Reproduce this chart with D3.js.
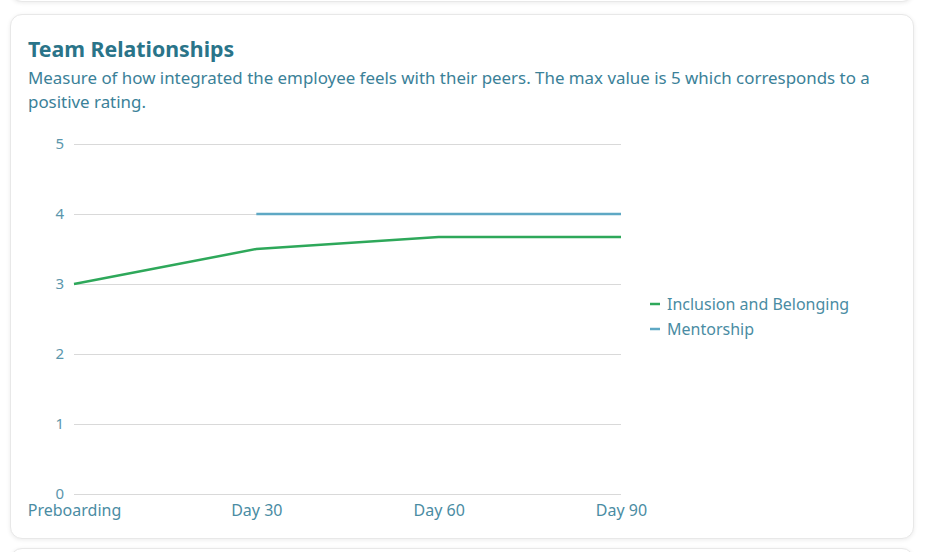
<!DOCTYPE html>
<html>
<head>
<meta charset="utf-8">
<script src="https://cdn.jsdelivr.net/npm/d3@7"></script>
<style>
  body { margin: 0; background: #fff; font-family: "Noto Sans", "Open Sans", sans-serif; }
  .card { position: absolute; background: #fff; border: 1px solid #e8e8e8; border-radius: 12px;
          box-shadow: 0 1px 4px rgba(0,0,0,0.08); }
  svg { position: absolute; left: 0; top: 0; }
</style>
</head>
<body>
<div class="card" style="left:10px; top:-40px; width:902px; height:40px;"></div>
<div class="card" style="left:10px; top:14px; width:902px; height:523px;"></div>
<div class="card" style="left:10px; top:548px; width:902px; height:40px;"></div>
<div id="viz"></div>
<script>
// chart data
const stages = ["Preboarding", "Day 30", "Day 60", "Day 90"];
const inclusion = [3, 3.5, 3.67, 3.67];
const mentorship = [null, 4, 4, 4];
const yTicks = [0, 1, 2, 3, 4, 5];
const seriesNames = ["Inclusion and Belonging", "Mentorship"];
const seriesColors = ["#2ea85a", "#5ea8c4"];

const width = 936, height = 552;
const margin = {top: 144, left: 74, right: 315, bottom: 58};

const svg = d3.select('#viz')
    .append('svg')
    .attr('width', width)
    .attr('height', height);

// heading text
svg.append("text")
    .attr("x", 28).attr("y", 57)
    .attr("fill", "#2a7489")
    .attr("font-size", 21.3)
    .attr("font-weight", "bold")
    .text("Team Relationships");

const sub = ["Measure of how integrated the employee feels with their peers. The max value is 5 which corresponds to a",
             "positive rating."];
sub.forEach((s, i) => {
    svg.append("text")
        .attr("x", 28).attr("y", 84 + i * 24)
        .attr("fill", "#3b8198")
        .attr("font-size", 16.9)
        .text(s);
});

var x = d3.scalePoint()
    .domain(stages)
    .range([margin.left, width - margin.right]);
var y = d3.scaleLinear()
    .domain([0, 5])
    .range([height - margin.bottom, margin.top]);

// grid lines + y labels
svg.append("g")
    .attr("transform", "translate(" + margin.left + ",0)")
    .call(d3.axisLeft(y).tickValues(yTicks).tickFormat(d3.format("d"))
        .tickSize(-(x.range()[1] - x.range()[0])).tickPadding(10))
    .call(g => g.select(".domain").remove())
    .call(g => g.selectAll(".tick line").attr("stroke", "#d9d9d9").attr("stroke-width", 1))
    .call(g => g.selectAll(".tick text").attr("fill", "#5b96ac").attr("font-size", 15)
        .attr("font-family", '"Noto Sans", sans-serif'));

// x labels
svg.append("g")
    .attr("transform", "translate(0," + (height - margin.bottom) + ")")
    .call(d3.axisBottom(x).tickSize(0).tickPadding(11))
    .call(g => g.select(".domain").remove())
    .call(g => g.selectAll(".tick text").attr("fill", "#4a8ca3").attr("font-size", 16)
        .attr("font-family", '"Noto Sans", sans-serif'));

const line = d3.line()
    .defined(d => d.v != null)
    .x(d => x(d.s))
    .y(d => y(d.v));

[inclusion, mentorship].forEach((vals, i) => {
    svg.append("path")
        .datum(stages.map((s, j) => ({s: s, v: vals[j]})))
        .attr("fill", "none")
        .attr("stroke", seriesColors[i])
        .attr("stroke-width", 2.5)
        .attr("d", line);
});

// legend
const legend = svg.append("g").attr("transform", "translate(650,304)");
seriesNames.forEach((n, i) => {
    const g = legend.append("g").attr("transform", "translate(0," + (i * 25) + ")");
    g.append("line").attr("x1", 0).attr("x2", 10).attr("y1", 0).attr("y2", 0)
        .attr("stroke", seriesColors[i]).attr("stroke-width", 2.5);
    g.append("text").attr("x", 17).attr("y", 5.5)
        .attr("fill", "#4a8ca3").attr("font-size", 16)
        .text(n);
});
</script>
</body>
</html>
